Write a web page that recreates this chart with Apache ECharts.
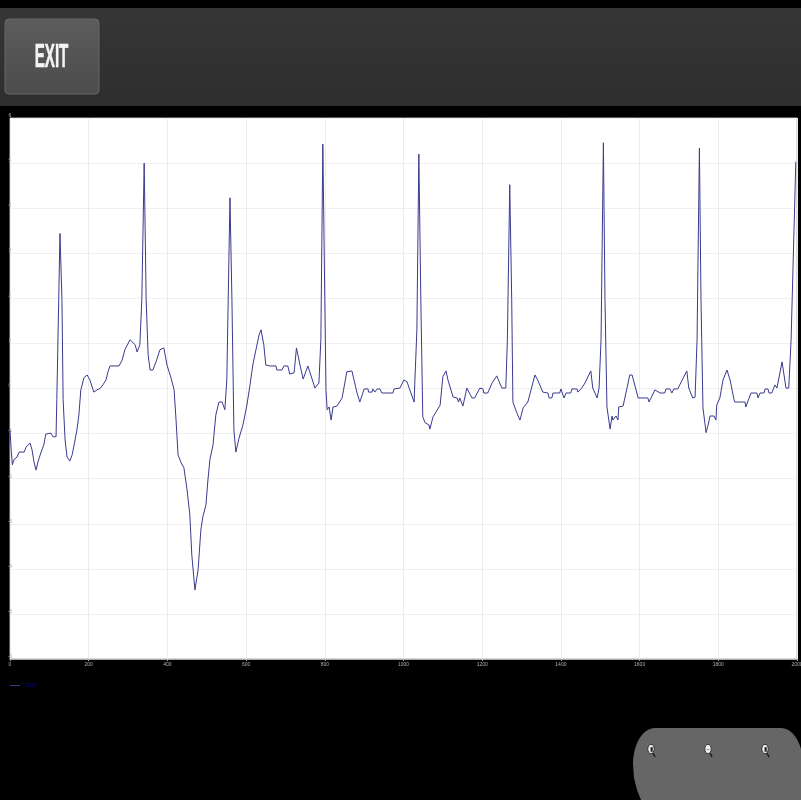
<!DOCTYPE html>
<html><head><meta charset="utf-8">
<style>html,body{margin:0;padding:0;background:#000}#c{width:801px;height:800px}</style>
<script src="https://cdn.jsdelivr.net/npm/echarts@6/dist/echarts.min.js"></script>
</head><body><div id="c"></div>
<script>
const seriesName = 'ECG';
const exitLabel = 'EXIT';
const yTicks = [-6, 6, 1];
const xTicks = [0, 2000, 200];
const time = [0,3,6,10,18,23,36,41,51,56,61,66,71,79,86,91,104,109,117,119,127,132,135,140,145,152,158,163,170,175,180,188,196,203,213,221,229,236,244,249,254,277,285,292,305,310,318,323,330,335,341,346,351,356,363,371,381,391,399,409,417,422,427,435,442,450,457,462,470,473,478,485,490,498,503,508,516,523,531,539,546,551,559,564,569,574,582,592,602,610,617,625,633,638,645,650,661,676,678,691,696,706,711,722,728,737,745,757,762,775,785,790,795,800,803,806,811,816,821,831,844,856,869,879,882,889,900,910,911,920,922,927,933,940,945,973,976,991,1001,1009,1016,1027,1029,1034,1039,1044,1049,1055,1065,1067,1075,1093,1100,1108,1113,1126,1136,1140,1143,1151,1161,1166,1174,1181,1194,1202,1204,1214,1225,1237,1250,1260,1264,1270,1275,1278,1288,1296,1304,1316,1334,1341,1354,1367,1370,1377,1380,1397,1400,1408,1413,1425,1428,1441,1443,1448,1453,1461,1476,1481,1492,1497,1502,1508,1512,1517,1525,1530,1532,1540,1545,1547,1558,1568,1575,1581,1593,1596,1621,1624,1639,1644,1652,1664,1667,1677,1682,1687,1697,1702,1720,1725,1735,1741,1746,1752,1756,1761,1769,1774,1779,1789,1794,1796,1804,1812,1822,1830,1840,1842,1868,1870,1875,1883,1898,1901,1906,1916,1919,1926,1929,1936,1944,1949,1962,1972,1979,1985,1997];
const ecg = [-0.92,-1.36,-1.69,-1.58,-1.52,-1.41,-1.41,-1.30,-1.21,-1.36,-1.63,-1.81,-1.63,-1.41,-1.25,-1.01,-0.99,-1.07,-1.07,-0.25,3.44,1.97,-0.25,-1.14,-1.52,-1.61,-1.47,-1.25,-0.92,-0.59,-0.03,0.24,0.30,0.19,-0.08,-0.03,0,0.08,0.19,0.37,0.50,0.50,0.63,0.86,1.08,1.12,0.97,0.81,0.97,1.97,5.0,1.97,0.75,0.41,0.41,0.59,0.86,0.90,0.52,0.24,-0.03,-0.70,-1.47,-1.65,-1.76,-2.25,-2.80,-3.69,-4.47,-4.51,-4.02,-3.14,-2.85,-2.58,-2.03,-1.58,-1.25,-0.59,-0.30,-0.30,-0.47,0.19,4.23,1.97,-0.92,-1.41,-1.10,-0.81,-0.37,0.08,0.52,0.86,1.19,1.30,0.97,0.52,0.50,0.50,0.41,0.41,0.50,0.50,0.32,0.35,0.90,0.52,0.21,0.50,0.48,0.01,0.12,1.08,5.42,1.97,-0.03,-0.47,-0.41,-0.70,-0.41,-0.39,-0.21,0.37,0.39,0.01,-0.10,-0.30,-0.01,-0.01,-0.08,-0.08,-0.01,-0.08,-0.01,-0.01,-0.10,-0.10,-0.01,0.01,0.19,0.15,-0.03,-0.30,0.19,1.30,5.20,1.97,-0.63,-0.76,-0.81,-0.90,-0.63,-0.37,0.26,0.39,0.19,-0.19,-0.21,-0.30,-0.21,-0.39,0.01,-0.01,-0.21,-0.21,0.01,-0.01,-0.10,-0.10,0.12,0.28,0.01,0.01,1.08,4.52,1.97,-0.30,-0.54,-0.70,-0.43,-0.30,0.30,0.19,-0.08,-0.10,-0.21,-0.21,-0.10,-0.10,-0.01,-0.21,-0.10,-0.10,-0.01,-0.01,-0.08,-0.08,0.01,0.12,0.39,0.01,-0.21,0.01,1.08,5.45,1.97,-0.41,-0.90,-0.61,-0.70,-0.61,-0.70,-0.41,-0.39,0.01,0.30,0.30,-0.10,-0.21,-0.21,-0.30,-0.03,0.01,-0.10,-0.10,-0.01,-0.01,-0.10,-0.01,-0.01,0.08,0.39,0.01,-0.21,-0.19,1.08,5.33,1.97,-0.43,-0.98,-0.81,-0.61,-0.61,-0.70,-0.37,-0.21,0.19,0.41,0.19,-0.25,-0.30,-0.30,-0.41,-0.39,-0.10,-0.10,-0.21,-0.10,-0.10,-0.01,-0.01,-0.10,-0.10,0.08,0.01,0.59,0.01,0.01,1.08,5.03];
const points = time.map((t, i) => [t, ecg[i]]);

const chart = echarts.init(document.getElementById('c'), null, {renderer:'canvas', width:801, height:800});
const grey = '#a8a8a8';
const lens = (cx, sym) => [
  {type:'line', z:11, shape:{x1:cx+2,y1:753,x2:cx+4,y2:757}, style:{stroke:'#111',lineWidth:1.2}},
  {type:'ellipse', z:11, shape:{cx:cx,cy:749,rx:3.2,ry:4.6}, style:{fill:'#eee',stroke:'#222',lineWidth:0.8}},
  {type:'text', z:12, style:{x:cx,y:749,text:sym,fill:'#222',fontSize:6,fontFamily:'Liberation Sans',align:'center',verticalAlign:'middle'}}
];
// Outline of the zoom panel: an elongated pill that runs off the right and bottom of the view
const panelOutline = [];
for (let a = 0; a <= 16; a++) { const t = Math.PI * a / 32; panelOutline.push([781 + 22 * Math.sin(t), 764 - 36 * Math.cos(t)]); }
panelOutline.push([803, 800], [641, 800]);
for (let a = 0; a <= 16; a++) { const t = Math.PI * a / 32; panelOutline.push([655 - 22 * Math.cos(t), 764 + 36 * 0 - 36 * Math.sin(t)]); }
const bottomLeftCurve = [[641,800],[637,790],[634,778],[633,764]];
panelOutline.splice(panelOutline.length - 17, 1, ...bottomLeftCurve);

chart.setOption({
  animation:false,
  backgroundColor:'#000',
  textStyle:{fontFamily:'Liberation Sans'},
  grid:{left:10,top:118,width:787,height:541,show:true,backgroundColor:'#fff',borderColor:'#b5b5b5',borderWidth:1,outerBoundsMode:'none',containLabel:false},
  legend:{left:10,top:683,itemWidth:10,itemHeight:1,itemGap:2,icon:'rect',padding:0,
    textStyle:{color:'#0000b0',fontSize:5},data:[seriesName]},
  xAxis:{type:'value',min:xTicks[0],max:xTicks[1],interval:xTicks[2],
    axisLine:{onZero:false,lineStyle:{color:grey}},axisTick:{show:true,length:2,lineStyle:{color:grey}},
    axisLabel:{color:'#b0b0b0',fontSize:5,margin:3,showMaxLabel:true,formatter:v=>String(v)},
    splitLine:{show:true,lineStyle:{color:'#ececf0'}}},
  yAxis:{type:'value',min:yTicks[0],max:yTicks[1],interval:yTicks[2],
    axisLine:{show:false},axisTick:{show:false},
    axisLabel:{color:'#b8b8b8',fontSize:5,margin:0,align:'center',verticalAlign:'bottom'},
    splitLine:{show:true,lineStyle:{color:'#f0f0f3'}}},
  series:[{name:seriesName,type:'line',data:points,symbol:'none',showSymbol:false,
    lineStyle:{color:'#3a3a90',width:1},itemStyle:{color:'#3a3a90'}}],
  graphic:[
    {type:'rect',z:10,shape:{x:0,y:8,width:801,height:98},style:{fill:new echarts.graphic.LinearGradient(0,0,0,1,[{offset:0,color:'#363636'},{offset:1,color:'#2e2e2e'}])}},
    {type:'rect',z:11,shape:{x:5,y:19,width:94,height:75,r:4},style:{fill:new echarts.graphic.LinearGradient(0,0,0,1,[{offset:0,color:'#5c5c5c'},{offset:1,color:'#4c4c4c'}]),stroke:'#666',lineWidth:1}},
    {type:'text',z:12,x:51.5,y:58,scaleX:0.46,style:{x:0,y:0,text:exitLabel,fill:'#f4f4f4',stroke:'#f4f4f4',lineWidth:0.6,fontSize:33,fontWeight:'bold',fontFamily:'Liberation Sans',align:'center',verticalAlign:'middle'}},
    {type:'polygon',z:10,shape:{points:panelOutline},style:{fill:'#666'}},
    ...lens(651,'\u25ae'),...lens(708,'\u2212'),...lens(765,'\u25ae')
  ]
});
</script></body></html>
